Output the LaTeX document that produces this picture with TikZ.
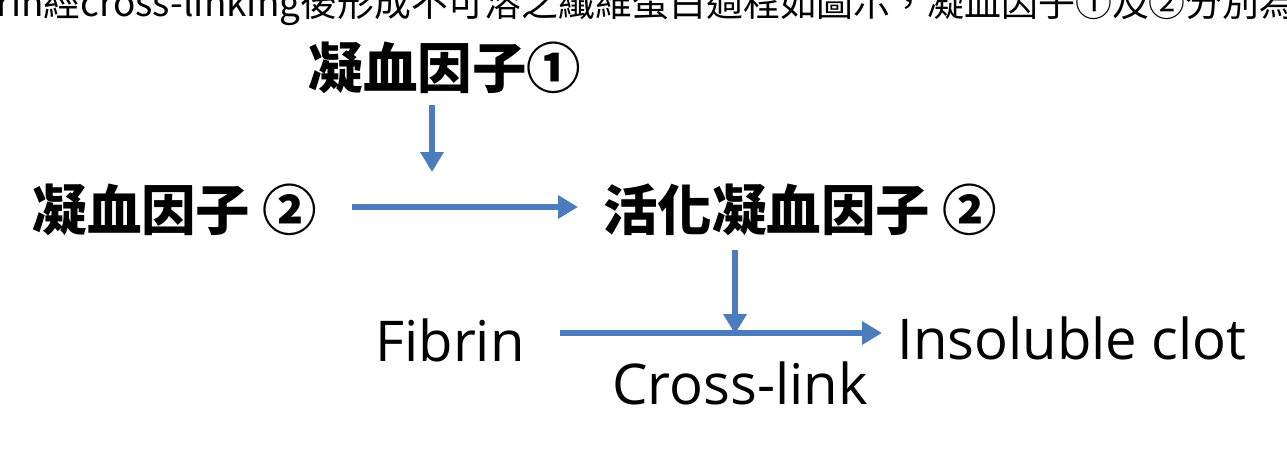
\documentclass[tikz,border=0pt]{standalone}
\usepackage{fontspec}
\setmainfont{Open Sans}
\newfontfamily\cjk{Noto Sans CJK TC}
\usetikzlibrary{arrows.meta}

\begin{document}
\begin{tikzpicture}[
		x=0.02cm, y=-0.02cm,
		thick,
		>={Triangle[length=4mm,width=4.5mm]},
		flowarrow/.style={->,draw={rgb,255:red,74;green,124;blue,190},line width=3pt},
		cjklabel/.style={font=\cjk\fontsize{31}{36}\selectfont\bfseries,inner sep=0pt},
		latlabel/.style={font=\fontsize{32}{38}\selectfont,inner sep=0pt}
	]
		\useasboundingbox (0,0) rectangle (1287,449);

		% Cut-off caption line
		\begin{scope}
			\clip (0,0) rectangle (1287,449);
			\node[font=\cjk\fontsize{21}{24}\selectfont,inner sep=0pt] (cap) at (620,6) {Fibrin經cross-linking後形成不可溶之纖維蛋白過程如圖示，凝血因子①及②分別為};
		\end{scope}

		% Factors
		\node[cjklabel] (f1) at (445,68) {凝血因子①};
		\node[cjklabel] (f2) at (175,210) {凝血因子 ②};
		\node[cjklabel] (af2) at (800,210) {活化凝血因子 ②};

		% Fibrin
		\node[latlabel] (fib) at (450,340) {Fibrin};
		\node[latlabel] (clot) at (1072,338) {Insoluble clot};
		\node[latlabel] (xl) at (740,383) {Cross-link};

		% Arrows
		\coordinate (a1) at (352,207);
		\coordinate (a2) at (578,207);
		\coordinate (b1) at (560,333);
		\coordinate (b2) at (882,333);
		\coordinate (c1) at (432,105);
		\coordinate (c2) at (432,172);
		\coordinate (d1) at (735,250);
		\coordinate (d2) at (735,334);
		\draw[flowarrow] (a1) -- (a2);
		\draw[flowarrow] (b1) -- (b2);
		\draw[flowarrow] (c1) -- (c2);
		\draw[flowarrow] (d1) -- (d2);
\end{tikzpicture}
\end{document}
